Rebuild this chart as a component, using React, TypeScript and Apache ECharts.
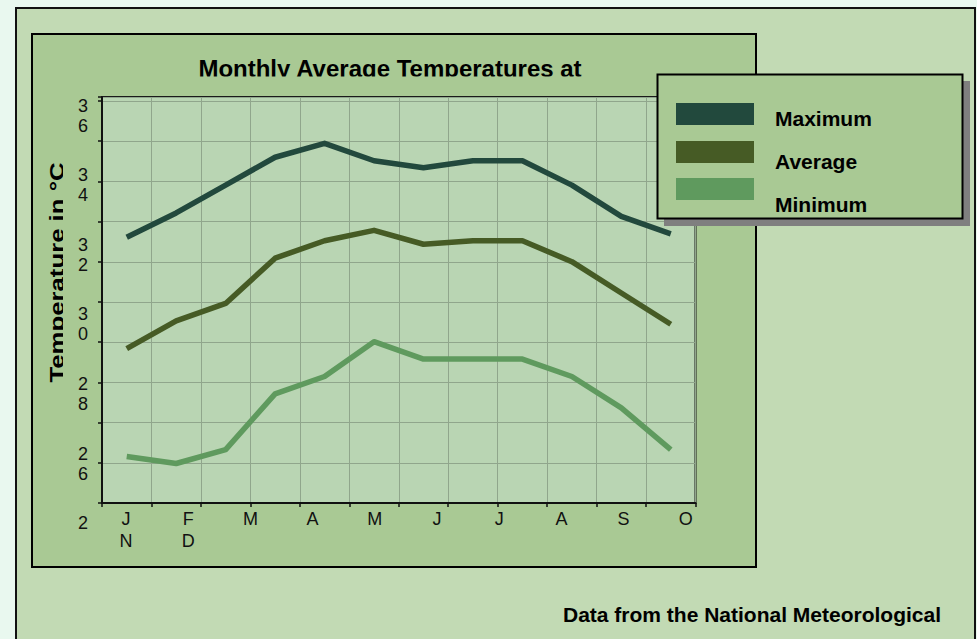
import React, { useEffect, useRef } from "react";
import * as echarts from "echarts";

// ---------- data ----------
const months = ["Jan", "Feb", "Mar", "Apr", "May", "Jun", "Jul", "Aug", "Sep", "Oct", "Nov", "Dec"];
const xTickLabels = ["J\nN", "F\nD", "M", "A", "M", "J", "J", "A", "S", "O"];
const yTickValues = [36, 34, 32, 30, 28, 26, 24];
const yTickLabels = ["3\n6", "3\n4", "3\n2", "3\n0", "2\n8", "2\n6", "2\n"];
const seriesNames = ["Maximum", "Average", "Minimum"];
const maxTemps = [32.5, 33.2, 34.0, 34.8, 35.2, 34.7, 34.5, 34.7, 34.7, 34.0, 33.1, 32.6];
const avgTemps = [29.3, 30.1, 30.6, 31.9, 32.4, 32.7, 32.3, 32.4, 32.4, 31.8, 30.9, 30.0];
const minTemps = [26.2, 26.0, 26.4, 28.0, 28.5, 29.5, 29.0, 29.0, 29.0, 28.5, 27.6, 26.4];
const titleText = "Monthly Average Temperatures at";
const yAxisTitle = "Temperature in °C";
const footerText = "Data from the National Meteorological";

// ---------- styles / layout ----------
const FONT = '"Liberation Sans", Arial, Helvetica, sans-serif';
const seriesColors = ["#22493d", "#465b25", "#5f9a5e"];
const PAGE_BG = "#e9f8ef";
const OUTER_BG = "#c2dab4";
const PANEL_BG = "#a9c994";
const PLOT_BG = "#b9d5b3";
const GRID_LINE = "#90a68c";

const PLOT_LEFT = 102;
const PLOT_WIDTH = 593.5;
const PLOT_TOP = 97;
const PLOT_BOTTOM = 503;
const Y36 = 115.5; // pixel of value 36 on the label/data scale
const PX_PER_DEG = 34.8;

const legendSwatchTops = [103, 141, 178];
const legendTextShift = [4, 9.5, 15.5];
const LEGEND_ITEM_H = 22;
const LEGEND_LINE_H = 20;

export default function App() {
  const ref = useRef<HTMLDivElement | null>(null);

  useEffect(() => {
    if (!ref.current) return;
    const chart = echarts.init(ref.current, null, { renderer: "svg" });

    const seriesData = [maxTemps, avgTemps, minTemps];

    const legends = seriesNames.map((name, i) => {
      const p = legendTextShift[i] * 2;
      const ext = Math.max(0, (p + LEGEND_LINE_H) / 2 - LEGEND_ITEM_H / 2);
      return {
        show: true,
        orient: "vertical",
        left: 676,
        top: legendSwatchTops[i] - ext,
        padding: 0,
        selectedMode: false,
        icon: "rect",
        itemWidth: 78,
        itemHeight: LEGEND_ITEM_H,
        itemStyle: { borderWidth: 0 },
        data: [{ name }],
        formatter: "{n|{name}}",
        textStyle: {
          fontFamily: FONT,
          fontSize: 21,
          fontWeight: "bold",
          color: "#000",
          lineHeight: LEGEND_LINE_H,
          padding: [p, 0, 0, 16],
          rich: {
            n: {
              fontFamily: FONT,
              fontSize: 21,
              fontWeight: "bold",
              color: "#000",
              lineHeight: LEGEND_LINE_H,
            },
          },
        },
        z: 5,
      };
    });

    const option: any = {
      animation: false,
      backgroundColor: "transparent",
      textStyle: { fontFamily: FONT },
      grid: [
        {
          left: PLOT_LEFT,
          top: PLOT_TOP,
          width: PLOT_WIDTH,
          height: PLOT_BOTTOM - PLOT_TOP,
          show: true,
          backgroundColor: PLOT_BG,
          borderColor: "#1a1a1a",
          borderWidth: 2,
        },
        {
          left: PLOT_LEFT,
          top: Y36,
          width: PLOT_WIDTH,
          height: 12 * PX_PER_DEG,
        },
        {
          left: 94.9,
          top: PLOT_TOP,
          width: 622,
          height: PLOT_BOTTOM - PLOT_TOP,
        },
      ],
      xAxis: [
        {
          gridIndex: 0,
          type: "category",
          data: months,
          boundaryGap: true,
          axisLine: { show: true, lineStyle: { color: "#111", width: 2 } },
          axisTick: { show: true, length: 4, lineStyle: { color: "#111", width: 1.5 } },
          axisLabel: { show: false },
          splitLine: { show: true, lineStyle: { color: GRID_LINE, width: 1 } },
        },
        {
          gridIndex: 1,
          type: "category",
          data: months,
          boundaryGap: true,
          show: false,
        },
        {
          gridIndex: 2,
          type: "category",
          data: xTickLabels,
          boundaryGap: true,
          position: "bottom",
          axisLine: { show: false },
          axisTick: { show: false },
          splitLine: { show: false },
          axisLabel: {
            show: true,
            interval: 0,
            margin: 5,
            fontFamily: FONT,
            fontSize: 18,
            lineHeight: 22,
            color: "#111",
          },
        },
      ],
      yAxis: [
        {
          gridIndex: 0,
          type: "value",
          min: 0,
          max: 10.1,
          interval: 1,
          axisLine: { show: true, lineStyle: { color: "#111", width: 2 } },
          axisTick: { show: true, length: 4, lineStyle: { color: "#111", width: 1.5 } },
          axisLabel: { show: false },
          splitLine: { show: true, lineStyle: { color: GRID_LINE, width: 1 } },
        },
        {
          gridIndex: 1,
          type: "value",
          min: 24,
          max: 36,
          interval: 2,
          axisLine: { show: false },
          axisTick: { show: false },
          splitLine: { show: false },
          axisLabel: {
            show: true,
            margin: 14,
            fontFamily: FONT,
            fontSize: 18,
            lineHeight: 20,
            color: "#111",
            formatter: (v: number) => {
              const i = yTickValues.indexOf(v);
              return i >= 0 ? yTickLabels[i] : "";
            },
          },
        },
        {
          gridIndex: 2,
          type: "value",
          show: false,
        },
      ],
      legend: legends,
      series: seriesNames.map((name, i) => ({
        name,
        type: "line",
        xAxisIndex: 1,
        yAxisIndex: 1,
        data: seriesData[i],
        symbol: "none",
        color: seriesColors[i],
        itemStyle: { color: seriesColors[i] },
        lineStyle: { color: seriesColors[i], width: 5.5, cap: "butt", join: "round" },
        z: 2,
      })),
      graphic: [
        {
          type: "text",
          x: 390,
          y: 68,
          z: 1,
          style: {
            text: titleText,
            fontFamily: FONT,
            fontSize: 24,
            fontWeight: "bold",
            fill: "#000",
            align: "center",
            verticalAlign: "middle",
            textAlign: "center",
            textVerticalAlign: "middle",
          },
        },
        {
          type: "rect",
          z: 2,
          shape: { x: 185, y: 76.6, width: 410, height: 19 },
          style: { fill: PANEL_BG },
        },
        {
          type: "text",
          x: 57,
          y: 272.5,
          rotation: Math.PI / 2,
          scaleX: 1.32,
          z: 1,
          style: {
            text: yAxisTitle,
            fontFamily: FONT,
            fontSize: 19.5,
            fontWeight: "bold",
            fill: "#000",
            align: "center",
            verticalAlign: "middle",
            textAlign: "center",
            textVerticalAlign: "middle",
          },
        },
        {
          type: "rect",
          z: 2,
          shape: { x: 63, y: 140, width: 10, height: 260 },
          style: { fill: PANEL_BG },
        },
        {
          type: "rect",
          z: 3,
          shape: { x: 664, y: 81, width: 306, height: 145 },
          style: { fill: "#7f7f7f" },
        },
        {
          type: "rect",
          z: 3,
          shape: { x: 657.5, y: 74.5, width: 305, height: 144 },
          style: { fill: PANEL_BG, stroke: "#000", lineWidth: 2 },
        },
        {
          type: "text",
          x: 563,
          y: 614,
          z: 1,
          style: {
            text: footerText,
            fontFamily: FONT,
            fontSize: 21,
            fontWeight: "bold",
            fill: "#000",
            align: "left",
            verticalAlign: "middle",
            textAlign: "left",
            textVerticalAlign: "middle",
          },
        },
      ],
    };

    chart.setOption(option);
    return () => {
      chart.dispose();
    };
  }, []);

  return (
    <div
      style={{
        position: "fixed",
        left: 0,
        top: 0,
        width: 977,
        height: 639,
        background: PAGE_BG,
        overflow: "hidden",
      }}
    >
      <div
        style={{
          position: "absolute",
          left: 15,
          top: 7,
          width: 961,
          height: 660,
          boxSizing: "border-box",
          background: OUTER_BG,
          border: "2px solid #111",
        }}
      />
      <div
        style={{
          position: "absolute",
          left: 31,
          top: 33,
          width: 726,
          height: 535,
          boxSizing: "border-box",
          background: PANEL_BG,
          border: "2px solid #000",
        }}
      />
      <div
        ref={ref}
        style={{ position: "absolute", left: 0, top: 0, width: 977, height: 639 }}
      />
    </div>
  );
}
